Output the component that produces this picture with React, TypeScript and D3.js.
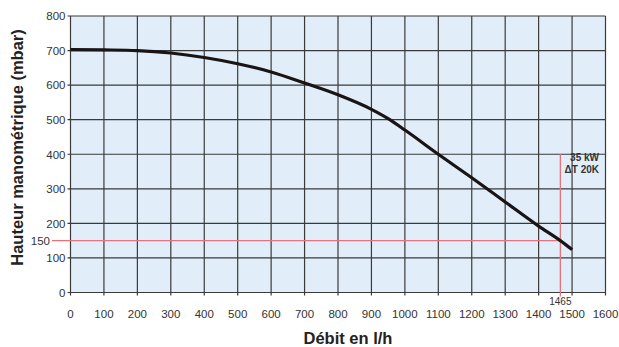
import React from "react";
import * as d3 from "d3";

const flowTicks = [0, 100, 200, 300, 400, 500, 600, 700, 800, 900, 1000, 1100, 1200, 1300, 1400, 1500, 1600];
const headTicks = [0, 100, 200, 300, 400, 500, 600, 700, 800];
const curveFlow = [0, 100, 200, 300, 400, 500, 600, 700, 800, 900, 950, 1000, 1100, 1200, 1300, 1400, 1465, 1500];
const curveHead = [703, 702, 700, 693, 680, 662, 638, 606, 572, 530, 503, 470, 400, 332, 262, 192, 150, 124];
const opFlow = 1465;
const opHead = 150;
const opLabels = ["35 kW", "ΔT 20K"];

export default function App() {
  const W = 619, H = 347;
  const x = d3.scaleLinear().domain([0, 1600]).range([70.5, 605.5]);
  const y = d3.scaleLinear().domain([0, 800]).range([292.5, 16]);
  const pts = curveFlow.map((f, i) => [f, curveHead[i]] as [number, number]);
  const line = d3.line<[number, number]>().x(d => x(d[0])).y(d => y(d[1])).curve(d3.curveMonotoneX);
  const font = "Liberation Sans, Arial, sans-serif";
  const red = "#e8737c";
  return (
    <svg width={W} height={H} style={{ position: "absolute", left: 0, top: 0 }} fontFamily={font}>
      <rect x={x(0)} y={y(800)} width={x(1600) - x(0)} height={y(0) - y(800)} fill="#e1eef9" />
      {flowTicks.map(t => (
        <line key={"v" + t} x1={x(t)} x2={x(t)} y1={y(800)} y2={y(0) + 3} stroke="#3a3a3a" strokeWidth={1.2} />
      ))}
      {headTicks.map(t => (
        <line key={"h" + t} x1={x(0) - 3} x2={x(1600)} y1={y(t)} y2={y(t)} stroke="#3a3a3a" strokeWidth={1.2} />
      ))}
      <line x1={52} x2={x(opFlow)} y1={y(opHead)} y2={y(opHead)} stroke={red} strokeWidth={1.3} />
      <line x1={x(opFlow)} x2={x(opFlow)} y1={y(400)} y2={y(0) + 4} stroke={red} strokeWidth={1.3} />
      <path d={line(pts) || ""} fill="none" stroke="#1a1414" strokeWidth={3.2} />
      {headTicks.map(t => (
        <text key={"yl" + t} x={x(0) - 5} y={y(t) + 4.3} textAnchor="end" fontSize={11.5} fill="#333">{t}</text>
      ))}
      <text x={50} y={y(opHead) + 4.3} textAnchor="end" fontSize={11.5} fill="#333">{opHead}</text>
      {flowTicks.map(t => (
        <text key={"xl" + t} x={x(t)} y={318} textAnchor="middle" fontSize={11.5} fill="#333">{t}</text>
      ))}
      <text x={x(opFlow)} y={305} textAnchor="middle" fontSize={10} fill="#333">{opFlow}</text>
      {opLabels.map((s, i) => (
        <text key={s} x={599} y={161 + i * 11.5} textAnchor="end" fontSize={10} fontWeight="bold" fill="#333">{s}</text>
      ))}
      <text x={348} y={344} textAnchor="middle" fontSize={16.5} fontWeight="bold" fill="#222">Débit en l/h</text>
      <text transform={`translate(23,147.5) rotate(-90)`} textAnchor="middle" fontSize={16.5} fontWeight="bold" fill="#222">Hauteur manométrique (mbar)</text>
    </svg>
  );
}
